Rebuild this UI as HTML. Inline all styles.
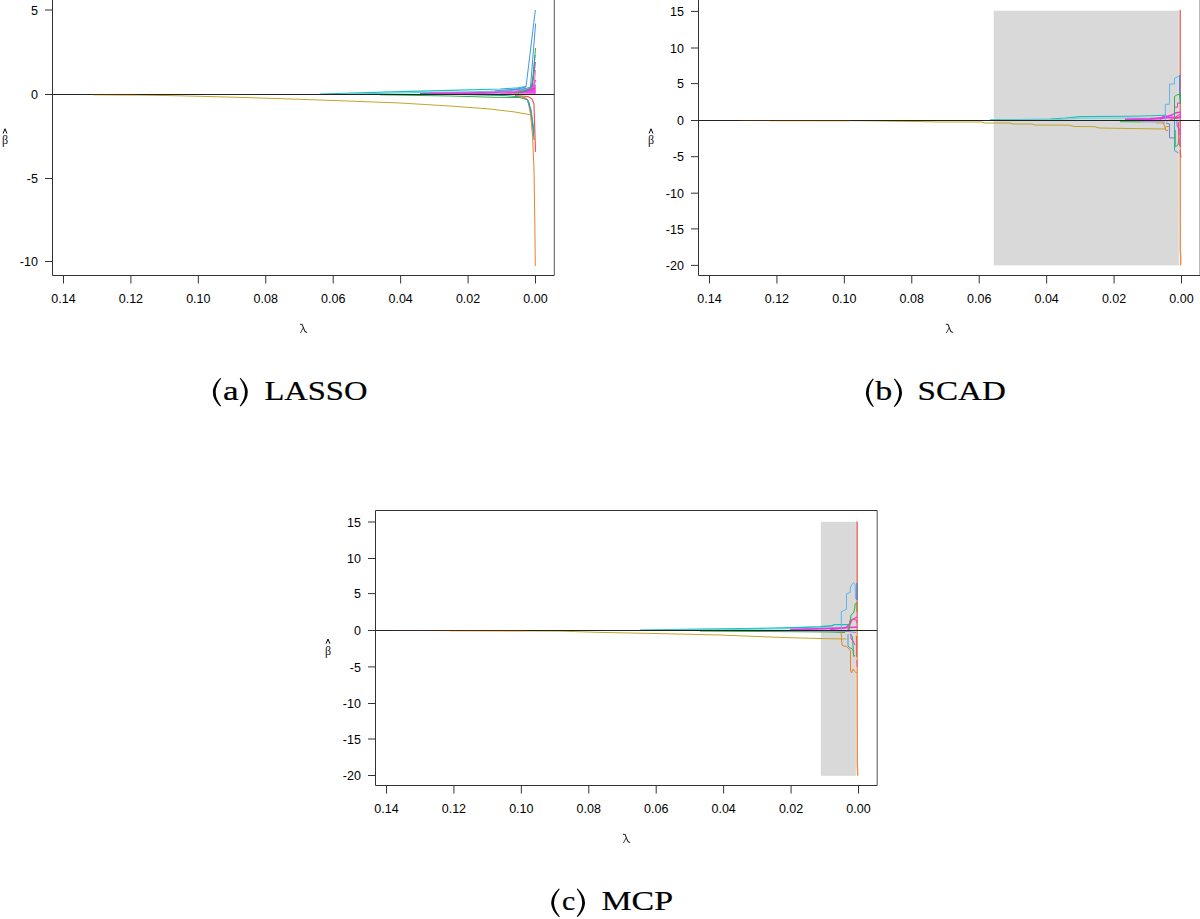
<!DOCTYPE html>
<html><head><meta charset="utf-8"><style>html,body{margin:0;padding:0;background:#fff;width:1200px;height:919px;overflow:hidden}svg{display:block}</style></head><body>
<svg width="1200" height="919" viewBox="0 0 1200 919">
<style>.t{font-family:"Liberation Sans",sans-serif;font-size:12.5px;fill:#000}.lam,.beta{font-family:"Liberation Serif",serif;font-size:12px;fill:#111}.cap{font-family:"Liberation Serif",serif;font-size:28px;fill:#000;stroke:#000;stroke-width:0.22px}</style>
<rect x="993.7" y="10.7" width="185.1" height="254.7" fill="#d9d9d9"/>
<rect x="820.8" y="521.8" width="35.1" height="254" fill="#d9d9d9"/>
<path d="M52.5 -5 V275.5 H554.3" fill="none" stroke="#333" stroke-width="1"/>
<path d="M554.3 275.5 V-5" fill="none" stroke="#555" stroke-width="1"/>
<line x1="45" y1="10" x2="52.5" y2="10" stroke="#333" stroke-width="1"/>
<text x="37.9" y="14.6" class="t" text-anchor="end">5</text>
<line x1="45" y1="94.5" x2="52.5" y2="94.5" stroke="#333" stroke-width="1"/>
<text x="37.9" y="99.1" class="t" text-anchor="end">0</text>
<line x1="45" y1="178.5" x2="52.5" y2="178.5" stroke="#333" stroke-width="1"/>
<text x="37.9" y="183.1" class="t" text-anchor="end">-5</text>
<line x1="45" y1="261.5" x2="52.5" y2="261.5" stroke="#333" stroke-width="1"/>
<text x="37.9" y="266.1" class="t" text-anchor="end">-10</text>
<line x1="535.5" y1="275.5" x2="535.5" y2="283.5" stroke="#333" stroke-width="1"/>
<text x="535.5" y="303.1" class="t" text-anchor="middle">0.00</text>
<line x1="468.07" y1="275.5" x2="468.07" y2="283.5" stroke="#333" stroke-width="1"/>
<text x="468.07" y="303.1" class="t" text-anchor="middle">0.02</text>
<line x1="400.64" y1="275.5" x2="400.64" y2="283.5" stroke="#333" stroke-width="1"/>
<text x="400.64" y="303.1" class="t" text-anchor="middle">0.04</text>
<line x1="333.21" y1="275.5" x2="333.21" y2="283.5" stroke="#333" stroke-width="1"/>
<text x="333.21" y="303.1" class="t" text-anchor="middle">0.06</text>
<line x1="265.78" y1="275.5" x2="265.78" y2="283.5" stroke="#333" stroke-width="1"/>
<text x="265.78" y="303.1" class="t" text-anchor="middle">0.08</text>
<line x1="198.35" y1="275.5" x2="198.35" y2="283.5" stroke="#333" stroke-width="1"/>
<text x="198.35" y="303.1" class="t" text-anchor="middle">0.10</text>
<line x1="130.92" y1="275.5" x2="130.92" y2="283.5" stroke="#333" stroke-width="1"/>
<text x="130.92" y="303.1" class="t" text-anchor="middle">0.12</text>
<line x1="63.49" y1="275.5" x2="63.49" y2="283.5" stroke="#333" stroke-width="1"/>
<text x="63.49" y="303.1" class="t" text-anchor="middle">0.14</text>
<g transform="translate(303.6,328.5) scale(1.05,1.15)" fill="none" stroke="#1a1a1a" stroke-linecap="round"><path d="M-3 -3.6 C-1.6 -4.1 -0.9 -3 -0.8 -2 L1 2 C1.3 2.8 1.9 3.3 3 3.2" stroke-width="0.95"/><path d="M-0.3 -0.6 L-2.8 3.6" stroke-width="0.75"/></g>
<text x="5" y="144.25" class="beta" text-anchor="middle">β</text>
<path d="M3.1 133.45 L5 128.75 L6.9 133.45" fill="none" stroke="#000" stroke-width="1"/>
<path d="M698.5 -5 V275.5 H1200.1" fill="none" stroke="#333" stroke-width="1"/>
<path d="M1200.1 275.5 V-5" fill="none" stroke="#555" stroke-width="1"/>
<line x1="691" y1="11.4" x2="698.5" y2="11.4" stroke="#333" stroke-width="1"/>
<text x="683.9" y="16" class="t" text-anchor="end">15</text>
<line x1="691" y1="48" x2="698.5" y2="48" stroke="#333" stroke-width="1"/>
<text x="683.9" y="52.6" class="t" text-anchor="end">10</text>
<line x1="691" y1="83.6" x2="698.5" y2="83.6" stroke="#333" stroke-width="1"/>
<text x="683.9" y="88.2" class="t" text-anchor="end">5</text>
<line x1="691" y1="120.5" x2="698.5" y2="120.5" stroke="#333" stroke-width="1"/>
<text x="683.9" y="125.1" class="t" text-anchor="end">0</text>
<line x1="691" y1="156.7" x2="698.5" y2="156.7" stroke="#333" stroke-width="1"/>
<text x="683.9" y="161.3" class="t" text-anchor="end">-5</text>
<line x1="691" y1="193.2" x2="698.5" y2="193.2" stroke="#333" stroke-width="1"/>
<text x="683.9" y="197.8" class="t" text-anchor="end">-10</text>
<line x1="691" y1="228.9" x2="698.5" y2="228.9" stroke="#333" stroke-width="1"/>
<text x="683.9" y="233.5" class="t" text-anchor="end">-15</text>
<line x1="691" y1="265.4" x2="698.5" y2="265.4" stroke="#333" stroke-width="1"/>
<text x="683.9" y="270" class="t" text-anchor="end">-20</text>
<line x1="1181.5" y1="275.5" x2="1181.5" y2="283.5" stroke="#333" stroke-width="1"/>
<text x="1181.5" y="303.1" class="t" text-anchor="middle">0.00</text>
<line x1="1114.07" y1="275.5" x2="1114.07" y2="283.5" stroke="#333" stroke-width="1"/>
<text x="1114.07" y="303.1" class="t" text-anchor="middle">0.02</text>
<line x1="1046.64" y1="275.5" x2="1046.64" y2="283.5" stroke="#333" stroke-width="1"/>
<text x="1046.64" y="303.1" class="t" text-anchor="middle">0.04</text>
<line x1="979.21" y1="275.5" x2="979.21" y2="283.5" stroke="#333" stroke-width="1"/>
<text x="979.21" y="303.1" class="t" text-anchor="middle">0.06</text>
<line x1="911.78" y1="275.5" x2="911.78" y2="283.5" stroke="#333" stroke-width="1"/>
<text x="911.78" y="303.1" class="t" text-anchor="middle">0.08</text>
<line x1="844.35" y1="275.5" x2="844.35" y2="283.5" stroke="#333" stroke-width="1"/>
<text x="844.35" y="303.1" class="t" text-anchor="middle">0.10</text>
<line x1="776.92" y1="275.5" x2="776.92" y2="283.5" stroke="#333" stroke-width="1"/>
<text x="776.92" y="303.1" class="t" text-anchor="middle">0.12</text>
<line x1="709.49" y1="275.5" x2="709.49" y2="283.5" stroke="#333" stroke-width="1"/>
<text x="709.49" y="303.1" class="t" text-anchor="middle">0.14</text>
<g transform="translate(949.5,328.5) scale(1.05,1.15)" fill="none" stroke="#1a1a1a" stroke-linecap="round"><path d="M-3 -3.6 C-1.6 -4.1 -0.9 -3 -0.8 -2 L1 2 C1.3 2.8 1.9 3.3 3 3.2" stroke-width="0.95"/><path d="M-0.3 -0.6 L-2.8 3.6" stroke-width="0.75"/></g>
<text x="651" y="144.25" class="beta" text-anchor="middle">β</text>
<path d="M649.1 133.45 L651 128.75 L652.9 133.45" fill="none" stroke="#000" stroke-width="1"/>
<path d="M375.5 510.5 V785.5 H877.2" fill="none" stroke="#333" stroke-width="1"/>
<path d="M877.2 785.5 V510.5" fill="none" stroke="#555" stroke-width="1"/>
<path d="M375.5 510.5 H877.2" fill="none" stroke="#333" stroke-width="1"/>
<line x1="368" y1="522" x2="375.5" y2="522" stroke="#333" stroke-width="1"/>
<text x="360.9" y="526.6" class="t" text-anchor="end">15</text>
<line x1="368" y1="558.5" x2="375.5" y2="558.5" stroke="#333" stroke-width="1"/>
<text x="360.9" y="563.1" class="t" text-anchor="end">10</text>
<line x1="368" y1="593.6" x2="375.5" y2="593.6" stroke="#333" stroke-width="1"/>
<text x="360.9" y="598.2" class="t" text-anchor="end">5</text>
<line x1="368" y1="630.5" x2="375.5" y2="630.5" stroke="#333" stroke-width="1"/>
<text x="360.9" y="635.1" class="t" text-anchor="end">0</text>
<line x1="368" y1="666.9" x2="375.5" y2="666.9" stroke="#333" stroke-width="1"/>
<text x="360.9" y="671.5" class="t" text-anchor="end">-5</text>
<line x1="368" y1="703.5" x2="375.5" y2="703.5" stroke="#333" stroke-width="1"/>
<text x="360.9" y="708.1" class="t" text-anchor="end">-10</text>
<line x1="368" y1="739" x2="375.5" y2="739" stroke="#333" stroke-width="1"/>
<text x="360.9" y="743.6" class="t" text-anchor="end">-15</text>
<line x1="368" y1="775.5" x2="375.5" y2="775.5" stroke="#333" stroke-width="1"/>
<text x="360.9" y="780.1" class="t" text-anchor="end">-20</text>
<line x1="858.5" y1="785.5" x2="858.5" y2="793.5" stroke="#333" stroke-width="1"/>
<text x="858.5" y="813.1" class="t" text-anchor="middle">0.00</text>
<line x1="791.07" y1="785.5" x2="791.07" y2="793.5" stroke="#333" stroke-width="1"/>
<text x="791.07" y="813.1" class="t" text-anchor="middle">0.02</text>
<line x1="723.64" y1="785.5" x2="723.64" y2="793.5" stroke="#333" stroke-width="1"/>
<text x="723.64" y="813.1" class="t" text-anchor="middle">0.04</text>
<line x1="656.21" y1="785.5" x2="656.21" y2="793.5" stroke="#333" stroke-width="1"/>
<text x="656.21" y="813.1" class="t" text-anchor="middle">0.06</text>
<line x1="588.78" y1="785.5" x2="588.78" y2="793.5" stroke="#333" stroke-width="1"/>
<text x="588.78" y="813.1" class="t" text-anchor="middle">0.08</text>
<line x1="521.35" y1="785.5" x2="521.35" y2="793.5" stroke="#333" stroke-width="1"/>
<text x="521.35" y="813.1" class="t" text-anchor="middle">0.10</text>
<line x1="453.92" y1="785.5" x2="453.92" y2="793.5" stroke="#333" stroke-width="1"/>
<text x="453.92" y="813.1" class="t" text-anchor="middle">0.12</text>
<line x1="386.49" y1="785.5" x2="386.49" y2="793.5" stroke="#333" stroke-width="1"/>
<text x="386.49" y="813.1" class="t" text-anchor="middle">0.14</text>
<g transform="translate(626.55,838.5) scale(1.05,1.15)" fill="none" stroke="#1a1a1a" stroke-linecap="round"><path d="M-3 -3.6 C-1.6 -4.1 -0.9 -3 -0.8 -2 L1 2 C1.3 2.8 1.9 3.3 3 3.2" stroke-width="0.95"/><path d="M-0.3 -0.6 L-2.8 3.6" stroke-width="0.75"/></g>
<text x="328" y="654.5" class="beta" text-anchor="middle">β</text>
<path d="M326.1 643.7 L328 639 L329.9 643.7" fill="none" stroke="#000" stroke-width="1"/>
<polyline points="320,94 400,91.6 450,90.4 500,89 518,87.8 526,86.5" fill="none" stroke="#1FBFC0" stroke-width="1.1" stroke-opacity="1" stroke-linejoin="round"/>
<polyline points="350,94 420,92.6 470,91.8 510,90.5 524,89.5" fill="none" stroke="#4FC9D0" stroke-width="1" stroke-opacity="1" stroke-linejoin="round"/>
<polyline points="380,94.8 450,96 495,97.3 520,97.6 523,98.6 527,99.5 529,102 532,120 533.5,135" fill="none" stroke="#2DB34A" stroke-width="1" stroke-opacity="1" stroke-linejoin="round"/>
<polyline points="460,94.5 505,95.6 522,97 528,100 531,112 533,128 534,140" fill="none" stroke="#1FA88A" stroke-width="1" stroke-opacity="1" stroke-linejoin="round"/>
<polyline points="420,93.6 470,93.3 510,92.6 525,91.5 532,90 535,88" fill="none" stroke="#8A60D0" stroke-width="1.2" stroke-opacity="1" stroke-linejoin="round"/>
<polyline points="430,93.4 480,92.8 515,91.5 528,90 533,88.5 535.3,80" fill="none" stroke="#E83ADD" stroke-width="1.6" stroke-opacity="1" stroke-linejoin="round"/>
<polygon points="500,93.6 520,93.7 535.8,93.8 535.8,84 531,87.5 522,90.6 510,91.8 500,92.4" fill="#E830E0" fill-opacity="0.85"/>
<polyline points="470,93.2 510,92.2 526,90.8 532,89.5 535.4,62" fill="none" stroke="#E83ADD" stroke-width="1.2" stroke-opacity="1" stroke-linejoin="round"/>
<polyline points="500,92.5 520,91 528,89.5 534,87 535.5,70" fill="none" stroke="#F070C0" stroke-width="1" stroke-opacity="1" stroke-linejoin="round"/>
<polyline points="515,95.7 522,96 528,96.6 532,99 534,104 535.5,152" fill="none" stroke="#EE5A5A" stroke-width="1.2" stroke-opacity="1" stroke-linejoin="round"/>
<polyline points="515,93 526,90.5 531,88 533.5,75 535.5,48" fill="none" stroke="#2DB34A" stroke-width="1" stroke-opacity="1" stroke-linejoin="round"/>
<polyline points="518,93 528,90 532,86 535,55" fill="none" stroke="#1FA88A" stroke-width="1" stroke-opacity="1" stroke-linejoin="round"/>
<polyline points="495,91 518,88.8 526,87 535.3,10.3 535.8,11" fill="none" stroke="#3A9BE0" stroke-width="1" stroke-opacity="1" stroke-linejoin="round"/>
<polyline points="510,90 526,88.5 530.5,87 535.6,23.5" fill="none" stroke="#4A8CF0" stroke-width="1" stroke-opacity="1" stroke-linejoin="round"/>
<polyline points="92.7,94.6 135,95 170,95.6 200,96.3 250,97.7 300,99.3 350,101.1 400,103 450,106 490,109 515,112 530,114.7" fill="none" stroke="#C4A52A" stroke-width="1" stroke-opacity="1" stroke-linejoin="round"/>
<polyline points="520,96 526,98 528,101 530.5,114 532.5,135 534,170 534.8,220 535.3,266" fill="none" stroke="#E8832A" stroke-width="1" stroke-opacity="1" stroke-linejoin="round"/>
<polyline points="527,99 531,110 533.8,130 534.5,132" fill="none" stroke="#3C9EC8" stroke-width="1.2" stroke-opacity="1" stroke-linejoin="round"/>
<polyline points="1180.2,121 1180.3,250 1180.8,260 1180.5,265.4" fill="none" stroke="#EA8E4C" stroke-width="1.5" stroke-opacity="1" stroke-linejoin="round"/>
<polyline points="1180.2,10 1180.2,121" fill="none" stroke="#E86A60" stroke-width="1.5" stroke-opacity="1" stroke-linejoin="round"/>
<polyline points="737,120.5 850,120.6 880,121 920,121.6 940,122 982,122 985,123 1010,123 1013,124 1032,124 1035,125 1070,125.2 1074,126.5 1095,126.7 1099,128 1130,128.5 1165,129 1166,126.5 1170,126.5" fill="none" stroke="#C4A52A" stroke-width="1" stroke-opacity="1" stroke-linejoin="round"/>
<polyline points="1156,123.5 1165,123.5" fill="none" stroke="#D8C07A" stroke-width="1" stroke-opacity="1" stroke-linejoin="round"/>
<polyline points="990,119.9 1040,119.2 1050,119 1065,118 1080,116.6 1130,116.3 1150,115.8 1163,115.2 1166,115" fill="none" stroke="#1FBFC0" stroke-width="1.1" stroke-opacity="1" stroke-linejoin="round"/>
<polyline points="1000,120.1 1060,119.5 1080,118.2 1130,118 1160,118.3" fill="none" stroke="#6FD3D8" stroke-width="1" stroke-opacity="1" stroke-linejoin="round"/>
<polyline points="1140,121.8 1165,122" fill="none" stroke="#8C8CD0" stroke-width="1" stroke-opacity="1" stroke-linejoin="round"/>
<polyline points="1120,121.7 1140,121.9" fill="none" stroke="#2DB34A" stroke-width="1" stroke-opacity="1" stroke-linejoin="round"/>
<polyline points="1125,119.6 1150,119 1162,118.2 1165,117.5 1172,117.5 1176,118 1181,117" fill="none" stroke="#E83ADD" stroke-width="2.2" stroke-opacity="1" stroke-linejoin="round"/>
<polyline points="1160,119.5 1163,116.5 1168,116 1172,115 1175,113 1178,112.5 1181,112" fill="none" stroke="#E83ADD" stroke-width="1.4" stroke-opacity="1" stroke-linejoin="round"/>
<polyline points="1174.5,121 1174.5,107.2 1177.5,107.2 1177.5,103 1181,103" fill="none" stroke="#E83ADD" stroke-width="1" stroke-opacity="1" stroke-linejoin="round"/>
<polyline points="1166,121 1170,120 1174,118.5 1177,116 1181,114" fill="none" stroke="#F04FA0" stroke-width="1.2" stroke-opacity="1" stroke-linejoin="round"/>
<polyline points="1165.3,121 1165.3,115 1165.3,104.3 1169.4,104.3 1169.6,84 1174.5,84 1174.5,78.4 1178.7,76.2 1180,76" fill="none" stroke="#5BB8EC" stroke-width="1" stroke-opacity="1" stroke-linejoin="round"/>
<polyline points="1179.7,75 1179.7,96 1180.5,100" fill="none" stroke="#3D78D8" stroke-width="1.1" stroke-opacity="1" stroke-linejoin="round"/>
<polyline points="1174.5,120 1174.5,96.5 1176.5,95 1180.5,94.2" fill="none" stroke="#2DB34A" stroke-width="1" stroke-opacity="1" stroke-linejoin="round"/>
<polyline points="1180.3,94 1180.3,104" fill="none" stroke="#2DB34A" stroke-width="1.4" stroke-opacity="1" stroke-linejoin="round"/>
<polyline points="1163,122.5 1164.5,126 1166,130.5 1168,130.5" fill="none" stroke="#E8832A" stroke-width="1" stroke-opacity="1" stroke-linejoin="round"/>
<polyline points="1166,123 1169.5,124 1169.5,137.9 1174.5,137.9" fill="none" stroke="#6A80D8" stroke-width="1" stroke-opacity="1" stroke-linejoin="round"/>
<polyline points="1174.5,121 1174.5,150.6 1178.5,153" fill="none" stroke="#3FA0E0" stroke-width="1" stroke-opacity="1" stroke-linejoin="round"/>
<polyline points="1175.2,130 1175.2,147 1178,145 1179,138" fill="none" stroke="#2DB34A" stroke-width="1" stroke-opacity="1" stroke-linejoin="round"/>
<polyline points="1178.5,122 1178.5,135 1179.5,146" fill="none" stroke="#EE5A5A" stroke-width="1" stroke-opacity="1" stroke-linejoin="round"/>
<polyline points="1180.3,121 1180.3,147" fill="none" stroke="#F04FA0" stroke-width="1.4" stroke-opacity="1" stroke-linejoin="round"/>
<polyline points="1177,121 1177,126 1180,130 1180,135" fill="none" stroke="#A060D8" stroke-width="1" stroke-opacity="1" stroke-linejoin="round"/>
<polyline points="1180.2,150 1180.8,157.5" fill="none" stroke="#EE5A5A" stroke-width="1.2" stroke-opacity="1" stroke-linejoin="round"/>
<polyline points="857.1,631 857.3,765 857.7,775.8" fill="none" stroke="#EA8E4C" stroke-width="1.5" stroke-opacity="1" stroke-linejoin="round"/>
<polyline points="857.1,521.5 857.1,631" fill="none" stroke="#E06A60" stroke-width="1.5" stroke-opacity="1" stroke-linejoin="round"/>
<polyline points="420,630.5 560,631.1 600,632.4 660,633.6 720,635 770,637 800,638 830,638.7 846.6,639" fill="none" stroke="#C4A52A" stroke-width="1" stroke-opacity="1" stroke-linejoin="round"/>
<polyline points="640,630.2 700,629.3 760,628.4 800,627.5 820,626.8 832,625.8 834,624.6 849,624.6 850,626" fill="none" stroke="#1FBFC0" stroke-width="1.4" stroke-opacity="1" stroke-linejoin="round"/>
<polyline points="660,630.3 720,629.7 790,628.8 840,628" fill="none" stroke="#6FD3D8" stroke-width="1" stroke-opacity="1" stroke-linejoin="round"/>
<polyline points="700,631.1 780,631.6 830,632 845,632.6" fill="none" stroke="#2DB34A" stroke-width="1" stroke-opacity="1" stroke-linejoin="round"/>
<polyline points="760,630.9 830,631 848,631.5 856,632.5" fill="none" stroke="#8C8CD0" stroke-width="1" stroke-opacity="1" stroke-linejoin="round"/>
<polyline points="790,629.6 810,629.1 825,628.6 840,628 850,627.5 857,627" fill="none" stroke="#E83ADD" stroke-width="1.7" stroke-opacity="1" stroke-linejoin="round"/>
<polyline points="830,629.5 845,628 850,624 852,620 855,618 857,617" fill="none" stroke="#E83ADD" stroke-width="1.3" stroke-opacity="1" stroke-linejoin="round"/>
<polyline points="848,630 850,621 853,619 856,620 857,623" fill="none" stroke="#F04FA0" stroke-width="1.2" stroke-opacity="1" stroke-linejoin="round"/>
<polyline points="841.3,630 841.3,625.3 841.3,611.6 846.5,609.3 846.5,593.6 850.1,592.6 850.5,587.1 853.4,582.5 855,584.2 855.3,589 855.5,598.8 857,598.8" fill="none" stroke="#5BB8EC" stroke-width="1" stroke-opacity="1" stroke-linejoin="round"/>
<polyline points="857,583 857,600" fill="none" stroke="#3D78D8" stroke-width="1.2" stroke-opacity="1" stroke-linejoin="round"/>
<polyline points="849,631 851,615 853.5,613 855,607 855,604 857,603" fill="none" stroke="#2DB34A" stroke-width="1" stroke-opacity="1" stroke-linejoin="round"/>
<polyline points="857,602 857,612" fill="none" stroke="#A09030" stroke-width="1.3" stroke-opacity="1" stroke-linejoin="round"/>
<polyline points="841,631 841.5,637.4 842,645 843,646 846.5,646.5 848,648 850,649.5 850.5,652 850.5,670 851.5,673 853,669 854.3,671 856,672.5 857,673" fill="none" stroke="#E8832A" stroke-width="1" stroke-opacity="1" stroke-linejoin="round"/>
<polyline points="848,634 848,646 850,648 851,648 853,650 853.8,657" fill="none" stroke="#3FA0E0" stroke-width="1" stroke-opacity="1" stroke-linejoin="round"/>
<polyline points="850,634 852.5,637 853.5,655 855,656" fill="none" stroke="#2DB34A" stroke-width="1" stroke-opacity="1" stroke-linejoin="round"/>
<polyline points="851,634 851,639 853,641 855,645" fill="none" stroke="#E83ADD" stroke-width="1" stroke-opacity="1" stroke-linejoin="round"/>
<polyline points="856.5,636 856.5,657" fill="none" stroke="#EE5A5A" stroke-width="1.2" stroke-opacity="1" stroke-linejoin="round"/>
<polyline points="856.8,660 857.2,667" fill="none" stroke="#F04FA0" stroke-width="1" stroke-opacity="1" stroke-linejoin="round"/>
<line x1="52.5" y1="94.5" x2="554.3" y2="94.5" stroke="#222" stroke-width="1"/>
<line x1="698.5" y1="120.5" x2="1200.1" y2="120.5" stroke="#222" stroke-width="1"/>
<line x1="375.5" y1="630.5" x2="877.2" y2="630.5" stroke="#222" stroke-width="1"/>
<line x1="93" y1="94.5" x2="135" y2="94.5" stroke="#4a3010" stroke-width="1" stroke-opacity="1"/>
<line x1="93" y1="95.4" x2="135" y2="95.4" stroke="#C08020" stroke-width="0.6" stroke-opacity="0.35"/>
<line x1="740" y1="120.5" x2="850" y2="120.5" stroke="#4a2a10" stroke-width="1" stroke-opacity="1"/>
<line x1="770" y1="121.4" x2="850" y2="121.4" stroke="#C08020" stroke-width="0.6" stroke-opacity="0.35"/>
<line x1="393" y1="630.5" x2="430" y2="630.5" stroke="#3a2030" stroke-width="1" stroke-opacity="1"/>
<line x1="430" y1="630.5" x2="525" y2="630.5" stroke="#4a2810" stroke-width="1" stroke-opacity="1"/>
<line x1="450" y1="631.4" x2="525" y2="631.4" stroke="#D08030" stroke-width="0.6" stroke-opacity="0.3"/>
<path d="M220.2 378 Q205.4 392.3 220.2 406.6 L221.1 406 Q210.2 392.3 221.1 378.6 Z" fill="#000"/>
<path d="M240.6 378 Q255 392.3 240.6 406.6 L239.7 406 Q250.2 392.3 239.7 378.6 Z" fill="#000"/>
<text x="223" y="399.8" class="cap" textLength="15.6" lengthAdjust="spacingAndGlyphs">a</text>
<text x="264.4" y="399.8" class="cap" textLength="103" lengthAdjust="spacingAndGlyphs">LASSO</text>
<path d="M872.9 378.4 Q858.9 392.7 872.9 407 L873.8 406.4 Q863.7 392.7 873.8 379 Z" fill="#000"/>
<path d="M894.7 378.4 Q909.3 392.7 894.7 407 L893.8 406.4 Q904.5 392.7 893.8 379 Z" fill="#000"/>
<text x="875.2" y="400.2" class="cap" textLength="17" lengthAdjust="spacingAndGlyphs">b</text>
<text x="917.6" y="400.2" class="cap" textLength="88.2" lengthAdjust="spacingAndGlyphs">SCAD</text>
<path d="M558.9 888.4 Q543.5 902.7 558.9 917 L559.8 916.4 Q548.3 902.7 559.8 889 Z" fill="#000"/>
<path d="M577.6 888.4 Q592.4 902.7 577.6 917 L576.7 916.4 Q587.6 902.7 576.7 889 Z" fill="#000"/>
<text x="562" y="910.2" class="cap" textLength="13.2" lengthAdjust="spacingAndGlyphs">c</text>
<text x="601.4" y="910.2" class="cap" textLength="71.6" lengthAdjust="spacingAndGlyphs">MCP</text>
</svg>
</body></html>
